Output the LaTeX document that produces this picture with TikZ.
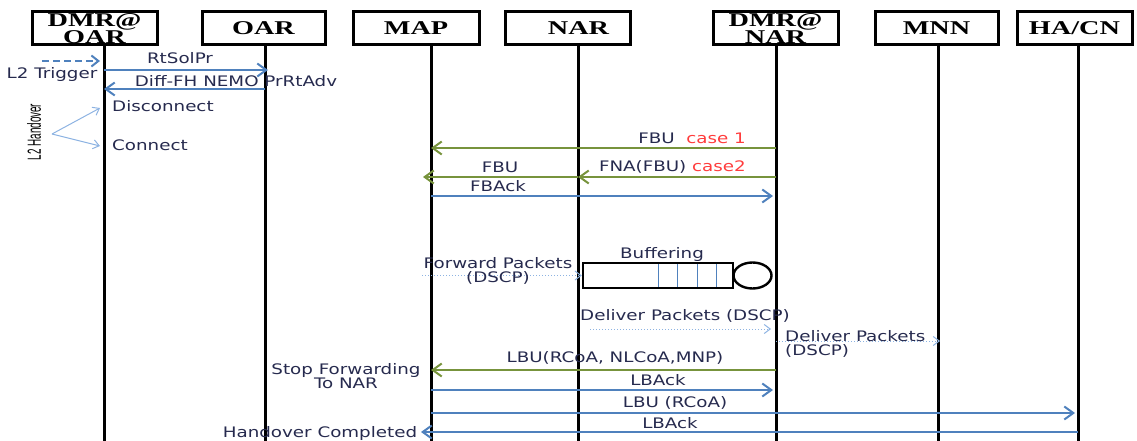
\documentclass[tikz,border=0pt]{standalone}
\usepackage{fontspec}
\usepackage{tikz}
\usetikzlibrary{arrows.meta}
\newfontfamily\hdfont{Liberation Serif}[FakeStretch=1.45]
\newfontfamily\msgfont{DejaVu Sans}[FakeStretch=1.26]
\newfontfamily\narrowfont{Liberation Sans}[FakeStretch=0.52]
\definecolor{msgblue}{RGB}{79,129,189}
\definecolor{msggreen}{RGB}{119,147,60}
\definecolor{pktblue}{RGB}{141,179,226}
\definecolor{txt}{RGB}{38,42,78}
\definecolor{casered}{RGB}{255,60,60}

\begin{document}
\begin{tikzpicture}[x=1pt,y=-1pt,
    life/.style={line width=3pt},
    hd/.style={draw, line width=3pt, minimum height=33pt, inner sep=0pt, align=center,
      font=\hdfont\bfseries\fontsize{19.5}{15}\selectfont},
    msg/.style={msgblue, line width=2pt, -{Straight Barb[length=9pt,width=13pt,line width=2pt]}},
    gmsg/.style={msg, msggreen},
    pkt/.style={pktblue, line width=1pt, dotted, -{Straight Barb[length=6pt,width=9pt,line width=1pt]}},
    hvarr/.style={pktblue, line width=1pt, -{Straight Barb[length=6pt,width=9pt,line width=1pt]}},
    lbl/.style={txt, inner sep=0pt, font=\msgfont\fontsize{14.5}{14}\selectfont}]
  \useasboundingbox (0,0) rectangle (1137,441);
  \foreach \n/\x in {dmro/104,oar/265,map/431,nar/578,dmrn/776,mnn/938,ha/1078}
    {\coordinate (\n) at (\x,45); \draw[life] (\n) -- (\x,441);}
  \node[hd, minimum width=125pt] (hdmro) at (94.5,28.5) {DMR@\\OAR};
  \node[hd, minimum width=123pt] (hoar) at (263.5,28.5) {OAR};
  \node[hd, minimum width=126pt] (hmap) at (416,28.5) {MAP};
  \node[hd, minimum width=125pt] (hnar) at (567.5,28.5) {\hspace*{22pt}NAR};
  \node[hd, minimum width=125pt] (hdmrn) at (775.5,28.5) {DMR@\\NAR};
  \node[hd, minimum width=123pt] (hmnn) at (936.5,28.5) {MNN};
  \node[hd, minimum width=115pt] (hha) at (1074.5,28.5) {HA/CN};

  \coordinate (trg) at (42,61);
  \draw[msgblue, line width=2.4pt, dash pattern=on 7pt off 4pt,
    -{Straight Barb[length=7pt,width=11pt,line width=2pt]}] (trg) -- ([xshift=-4pt]dmro |- trg);
  \node[lbl] (ltrg) at (52,75) {L2 Trigger};
  \draw[msg] (dmro |- 0,70) -- ([xshift=3pt]oar |- 0,70);
  \node[lbl] (lrts) at (180,58) {RtSolPr};
  \draw[msg] (oar |- 0,89) -- (dmro |- 0,89);
  \node[lbl] (lprr) at (236,81) {Diff-FH NEMO PrRtAdv};

  \node[rotate=90, inner sep=0pt, font=\narrowfont\fontsize{19}{19}\selectfont] (lhov) at (34,132) {L2 Handover};
  \coordinate (hv) at (52,134);
  \draw[hvarr] (hv) -- ([xshift=-4pt]dmro |- 0,108);
  \draw[hvarr] (hv) -- ([xshift=-4pt]dmro |- 0,146);
  \node[lbl, anchor=west] (ldis) at (112,106) {Disconnect};
  \node[lbl, anchor=west] (lcon) at (112,145) {Connect};

  \draw[gmsg] (dmrn |- 0,148) -- (map |- 0,148);
  \node[lbl, anchor=east] (lfbu1) at (746,138) {FBU\ \ \textcolor{casered}{case 1}};
  \draw[gmsg] (dmrn |- 0,177) -- (nar |- 0,177);
  \draw[gmsg] (nar |- 0,177) -- ([xshift=-8pt]map |- 0,177);
  \node[lbl, anchor=east] (lfna) at (746,167) {FNA(FBU) \textcolor{casered}{case2}};
  \node[lbl] (lfbu2) at (500,167) {FBU};
  \draw[msg] (map |- 0,196) -- ([xshift=-3pt]dmrn |- 0,196);
  \node[lbl] (lfback) at (498,186) {FBAck};

  \node[draw, line width=2.4pt, minimum width=150pt, minimum height=25pt, inner sep=0pt] (buf) at (658,275.5) {};
  \foreach \x in {658,677,697,716}
    \draw[msgblue, line width=0.8pt] (\x,264) -- (\x,287);
  \draw[line width=2.4pt] (752.5,275.5) ellipse [x radius=19, y radius=13];
  \node[lbl] (lbuf) at (662,254) {Buffering};
  \draw[pkt] ([xshift=-9pt]map |- buf.west) -- (buf.west);
  \node[lbl, align=center] (lfwd) at (498,271) {Forward Packets\\(DSCP)};

  \draw[pkt] ([xshift=12pt]nar |- 0,329) -- ([xshift=-5pt]dmrn |- 0,329);
  \node[lbl] (ldel1) at (685,316) {Deliver Packets (DSCP)};
  \draw[pkt] (dmrn |- 0,341) -- ([xshift=2pt]mnn |- 0,341);
  \node[lbl, anchor=west, align=left] (ldel2) at (785,344) {Deliver Packets\\ (DSCP)};

  \draw[gmsg] (dmrn |- 0,370) -- (map |- 0,370);
  \node[lbl] (llbu1) at (615,358) {LBU(RCoA, NLCoA,MNP)};
  \node[lbl, align=center] (lstop) at (346,376) {Stop Forwarding\\To NAR};
  \draw[msg] (map |- 0,390) -- ([xshift=-3pt]dmrn |- 0,390);
  \node[lbl] (llba1) at (658,380) {LBAck};
  \draw[msg] (map |- 0,413) -- ([xshift=-3pt]ha |- 0,413);
  \node[lbl] (llbu2) at (675,403) {LBU (RCoA)};
  \draw[msg] (ha |- 0,432) -- ([xshift=-10pt]map |- 0,432);
  \node[lbl] (llba2) at (670,423) {LBAck};
  \node[lbl] (ldone) at (320,433) {Handover Completed};
\end{tikzpicture}
\end{document}
